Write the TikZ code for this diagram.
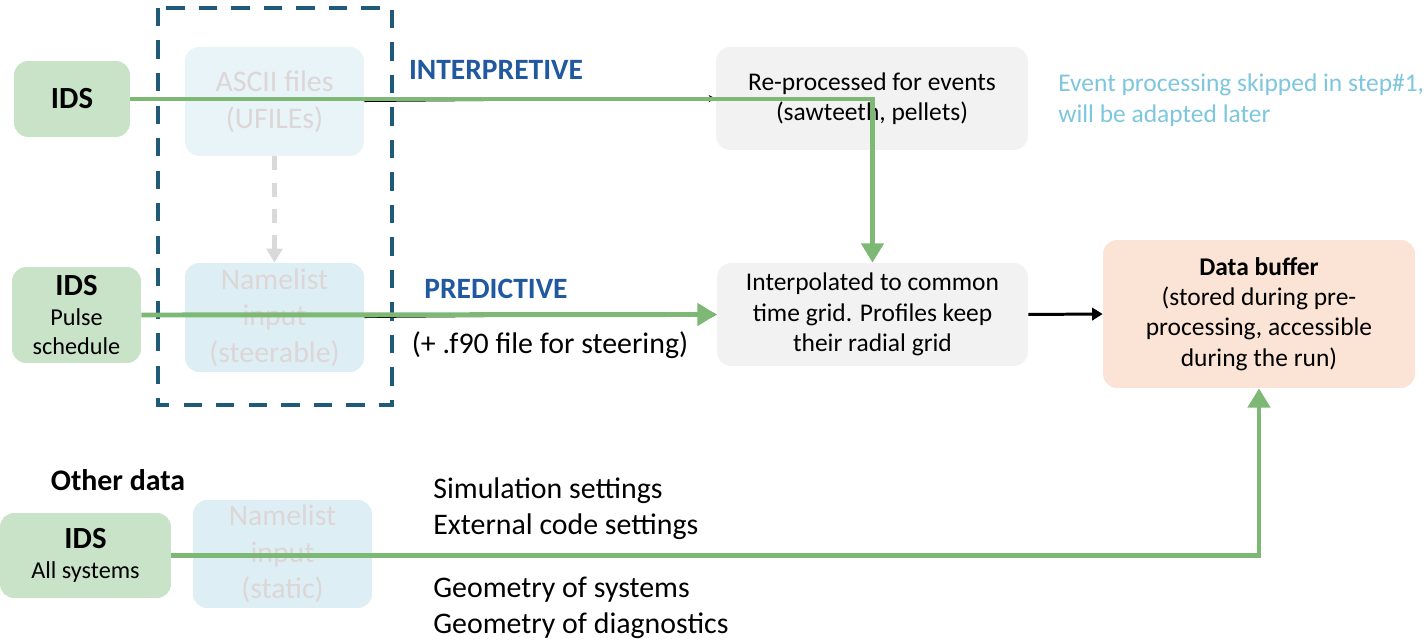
\documentclass[tikz,border=0pt]{standalone}
\usepackage{fontspec}
\setmainfont{Carlito}
\usepackage{xcolor}
\usetikzlibrary{positioning,arrows.meta}
\definecolor{idsfill}{HTML}{C9E3C8}
\definecolor{flowgreen}{HTML}{7DB874}
\definecolor{framecol}{HTML}{1F5B78}
\definecolor{asciifill}{HTML}{E8F4F7}
\definecolor{nlfill}{HTML}{DDEFF5}
\definecolor{fadedtxt}{HTML}{DDD6D6}
\definecolor{procfill}{HTML}{F2F2F2}
\definecolor{buffill}{HTML}{FBE4D5}
\definecolor{modeblue}{HTML}{2059A0}
\definecolor{notecol}{HTML}{7DC6DE}
\tikzset{
  ids/.style={rectangle, rounded corners=8pt, fill=idsfill, align=center, inner sep=2pt, font=\fontsize{13.8}{16.6}\selectfont},
  oldin/.style={rectangle, rounded corners=8pt, text=fadedtxt, align=center, inner sep=2pt, font=\fontsize{17}{20.8}\selectfont},
  proc/.style={rectangle, rounded corners=8pt, fill=procfill, align=center, inner sep=2pt, font=\fontsize{14.5}{17.3}\selectfont},
  flow/.style={draw=flowgreen, line width=2.8pt, -{Triangle[width=12.5pt,length=11pt]}},
  thinarr/.style={draw=black, line width=0.6pt, -{Stealth[length=4pt,width=4pt]}},
  lbl/.style={font=\fontsize{17}{20.4}\selectfont, inner sep=0pt, align=left},
  mode/.style={text=modeblue, font=\fontsize{16.8}{19}\selectfont\bfseries, inner sep=0pt}
}
\newcommand{\idsbig}{\fontsize{17.5}{20}\selectfont\bfseries}
\begin{document}
\begin{tikzpicture}[x=0.02cm, y=-0.02cm]
  \useasboundingbox (0,0) rectangle (1428,641);
  \node[ids, minimum width=2.32cm, minimum height=1.52cm] (ids1) at (72,99) {\idsbig IDS};
  \node[ids, minimum width=2.58cm, minimum height=1.92cm] (ids2) at (76.5,315)
    {{\idsbig IDS}\\[0.5pt]Pulse\\schedule};
  \node[ids, minimum width=3.42cm, minimum height=1.70cm] (ids3) at (85.5,555.5)
    {{\idsbig IDS}\\[0.5pt]All systems};
  \node[font=\fontsize{17}{19}\selectfont\bfseries, inner sep=0pt] (other) at (118,480) {Other data};
  \node[oldin, fill=asciifill, minimum width=3.58cm, minimum height=2.18cm] (ascii) at (274.5,101.5) {ASCII files\\(UFILEs)};
  \node[oldin, fill=nlfill, minimum width=3.58cm, minimum height=2.18cm] (nlsteer) at (274.5,317.5) {Namelist\\input\\(steerable)};
  \node[oldin, fill=nlfill, minimum width=3.58cm, minimum height=2.16cm] (nlstatic) at (282.5,554) {Namelist\\input\\(static)};
  \draw[framecol, line width=2.3pt, dash pattern=on 10.5pt off 8pt] (158,8) rectangle (392,405);
  \draw[draw=black!15, line width=2.3pt, dash pattern=on 8pt off 7pt, -{Triangle[width=9pt,length=8pt]}] (ascii) -- (nlsteer);
  \node[proc, minimum width=6.24cm, minimum height=2.06cm] (reproc) at (872,98.5) {Re-processed for events\\(sawteeth, pellets)};
  \node[proc, minimum width=6.22cm, minimum height=2.06cm] (interp) at (872.5,314.5) {Interpolated to common\\time grid. Profiles keep\\their radial grid};
  \node[proc, fill=buffill, minimum width=6.24cm, minimum height=2.96cm] (buffer) at (1259,314)
    {\bfseries Data buffer\\\mdseries (stored during pre-\\processing, accessible\\during the run)};
  \node[mode] (interpr) at (496,70) {INTERPRETIVE};
  \node[mode] (predict) at (496,289) {PREDICTIVE};
  \node[lbl, font=\fontsize{17}{19}\selectfont] (steer) at (550,345) {(+ .f90 file for steering)};
  \node[lbl, anchor=west, text=notecol, font=\fontsize{14.5}{17.6}\selectfont] (note) at (1058,100) {Event processing skipped in step\#1,\\will be adapted later};
  \node[lbl, anchor=west] (simset) at (433,509) {Simulation settings\\External code settings};
  \node[lbl, anchor=west] (geoset) at (433,608) {Geometry of systems\\Geometry of diagnostics};
  \draw[thinarr] (ascii.east) -- (reproc.west);
  \draw[thinarr] (nlsteer.east) -- (interp.west);
  \draw[flow] (ids1.east) -| (interp.north);
  \draw[flow] (ids2.east) -- (interp.west);
  \draw[flow] (ids3.east) -| (buffer.south);
  \draw[draw=black, line width=1.7pt, -{Triangle[width=7pt,length=6pt]}] (interp.east) -- (buffer.west);
\end{tikzpicture}
\end{document}
